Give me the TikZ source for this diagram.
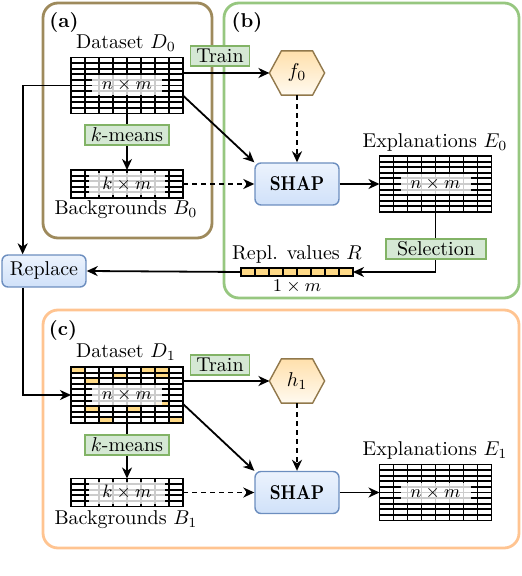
\documentclass[tikz,border=0pt]{standalone}
\usepackage{amsmath}
\usepackage{graphicx}
\usetikzlibrary{arrows.meta,calc}
\definecolor{abrown}{RGB}{158,138,92}
\definecolor{bgreen}{RGB}{151,199,128}
\definecolor{corange}{RGB}{255,196,145}
\definecolor{lblfill}{RGB}{213,232,212}
\definecolor{lbldraw}{RGB}{130,179,102}
\definecolor{blueD}{RGB}{108,142,191}
\definecolor{blueT}{RGB}{236,243,253}
\definecolor{blueB}{RGB}{208,225,249}
\definecolor{hexD}{RGB}{145,120,75}
\definecolor{hexT}{RGB}{255,224,172}
\definecolor{hexB}{RGB}{255,250,240}
\definecolor{cellor}{RGB}{255,218,135}
\newcommand{\tablenode}[3]{\node[tablebg, minimum height={#3*2.8pt}] (#1) at (#2) {};}
\newcommand{\tablegrid}[2]{%
  \foreach \k in {1,...,7} {\draw[gridline] ($(#1.north west)+(\k*14,0)$) -- ($(#1.south west)+(\k*14,0)$);}
  \foreach \k in {1,...,#2} {\draw[gridline] ($(#1.north west)+(0,\k*5.6)$) -- ($(#1.north east)+(0,\k*5.6)$);}
  \draw[gridline] (#1.north west) rectangle (#1.south east);}
\newcommand{\orangecells}[2]{\foreach \r/\c in {#2} {\fill[cellor] ($(#1.north west)+({(\c-1)*14},{(\r-1)*5.6})$) rectangle ++(14,5.6);}}
\newcommand{\hexnode}[3]{%
  \node[modelbox] (#1) at (#2) {};
  \shade[model] (#1.west) -- ($(#1.north west)+(12,0)$) -- ($(#1.north east)+(-12,0)$) -- (#1.east) -- ($(#1.south east)+(-12,0)$) -- ($(#1.south west)+(12,0)$) -- cycle;
  \node (#1t) at (#1) {#3};}
\begin{document}
\begin{tikzpicture}[x=0.5pt, y=-0.5pt,
 >={Stealth[length=5.5pt,width=5pt,inset=1.7pt]},
 conn/.style={->, line width=0.9pt},
 dconn/.style={->, line width=0.9pt, dash pattern=on 2.5pt off 2pt},
 tablebg/.style={fill=white, minimum width=56pt, inner sep=0pt, outer sep=0pt},
 gridline/.style={line width=0.95pt, black},
 gridlabel/.style={fill=white, fill opacity=0.8, text opacity=1, inner sep=0pt, minimum width=35pt, minimum height=10pt, font=\small},
 opbox/.style={draw=blueD, top color=blueT, bottom color=blueB, rounded corners=3pt, line width=0.7pt, inner sep=0pt},
 steplabel/.style={fill=lblfill, draw=lbldraw, line width=0.7pt, inner xsep=3pt, inner ysep=0pt, minimum height=10pt},
 modelbox/.style={minimum width=27pt, minimum height=21.5pt, inner sep=0pt, outer sep=0.3pt},
 model/.style={draw=hexD, top color=hexT, bottom color=hexB, line width=0.7pt},
 frame/.style={rounded corners=7.5pt, line width=1.4pt},
 tag/.style={font=\bfseries}]
\useasboundingbox (0,0) rectangle (522,576);
% frames
\draw[frame, draw=abrown] (43,3) rectangle (212,238);
\draw[frame, draw=bgreen] (224,3) rectangle (519,298);
\draw[frame, draw=corange] (43,310) rectangle (519,548);
\node[tag] (ta) at (64,22) {(a)};
\node[tag] (tb) at (247,22) {(b)};
\node[tag] (tc) at (63,330) {(c)};
% tables
\tablenode{D0}{127,85.5}{10}\tablegrid{D0}{9}
\node[gridlabel] (D0l) at (D0) {$n\times m$};
\tablenode{B0}{127,184}{5}\tablegrid{B0}{4}
\node[gridlabel, minimum width=38pt, minimum height=11pt] (B0l) at (B0) {$k\times m$};
\tablenode{E0}{435.5,184}{10}\tablegrid{E0}{9}
\node[gridlabel] (E0l) at (E0) {$n\times m$};
\tablenode{D1}{127,395}{10}\orangecells{D1}{1/1,1/6,1/7,2/4,2/7,3/2,7/7,8/2,8/5,10/3,10/8}\tablegrid{D1}{9}
\node[gridlabel] (D1l) at (D1) {$n\times m$};
\tablenode{B1}{127,492.5}{5}\tablegrid{B1}{4}
\node[gridlabel, minimum width=38pt, minimum height=11pt] (B1l) at (B1) {$k\times m$};
\tablenode{E1}{435.5,492.5}{10}\tablegrid{E1}{9}
\node[gridlabel] (E1l) at (E1) {$n\times m$};
% texts
\node (D0t) at (126,43) {Dataset $D_0$};
\node (B0t) at (126,210) {Backgrounds $B_0$};
\node (E0t) at (435,143) {Explanations $E_0$};
\node (D1t) at (126,352) {Dataset $D_1$};
\node (B1t) at (126,520) {Backgrounds $B_1$};
\node (E1t) at (435,450) {Explanations $E_1$};
% models and operations
\hexnode{f0}{297,73}{$f_0$}
\hexnode{h1}{297,381}{$h_1$}
\node[opbox, minimum width=42pt, minimum height=21pt] (S0) at (297,184) {\scalebox{0.85}[1]{\textbf{SHAP}}};
\node[opbox, minimum width=42pt, minimum height=21pt] (S1) at (297,492.5) {\scalebox{0.85}[1]{\textbf{SHAP}}};
\node[opbox, minimum width=42pt, minimum height=16pt] (Rep) at (44,271) {Replace};
% replacement bar
\node[fill=cellor, minimum width=56pt, minimum height=4pt, inner sep=0pt, outer sep=0pt] (R) at (297,272) {};
\foreach \k in {1,...,7} {\draw[line width=0.7pt] ($(R.north west)+(\k*14,0)$) -- ($(R.south west)+(\k*14,0)$);}
\draw[line width=0.7pt] (R.north west) rectangle (R.south east);
\node (Rt) at (297,255) {Repl. values $R$};
\node[font=\small] (Rd) at (297,287) {$1\times m$};
% connectors (b)
\draw[conn] (f0.west -| D0.east) -- (f0.west);
\draw[dconn] (f0.south) -- (S0.north);
\draw[conn] ($(D0.north east)!0.68!(D0.south east)$) -- (S0.north west);
\draw[conn] (D0.south) -- (B0.north);
\draw[dconn] (B0.east) -- (S0.west);
\draw[conn] (S0.east) -- (E0.west);
\draw[conn] (E0.south) |- (R.east);
\draw[conn] (R.west) -- (Rep.east);
\draw[conn] (D0.west) -| ($(Rep.north west)!0.25!(Rep.north east)$);
\draw[conn] ($(Rep.south west)!0.25!(Rep.south east)$) |- (D1.west);
% connectors (c)
\draw[conn] (h1.west -| D1.east) -- (h1.west);
\draw[dconn] (h1.south) -- (S1.north);
\draw[conn] ($(D1.north east)!0.66!(D1.south east)$) -- (S1.north west);
\draw[conn] (D1.south) -- (B1.north);
\draw[dconn] (B1.east) -- (S1.west);
\draw[conn] (S1.east) -- (E1.west);
% step labels
\node[steplabel] (tr0) at (220,56) {Train};
\node[steplabel] (km0) at (127,135) {$k$-means};
\node[steplabel, minimum width=50pt] (sel) at (436,249) {Selection};
\node[steplabel] (tr1) at (220,365) {Train};
\node[steplabel] (km1) at (127,445) {$k$-means};
\end{tikzpicture}
\end{document}
